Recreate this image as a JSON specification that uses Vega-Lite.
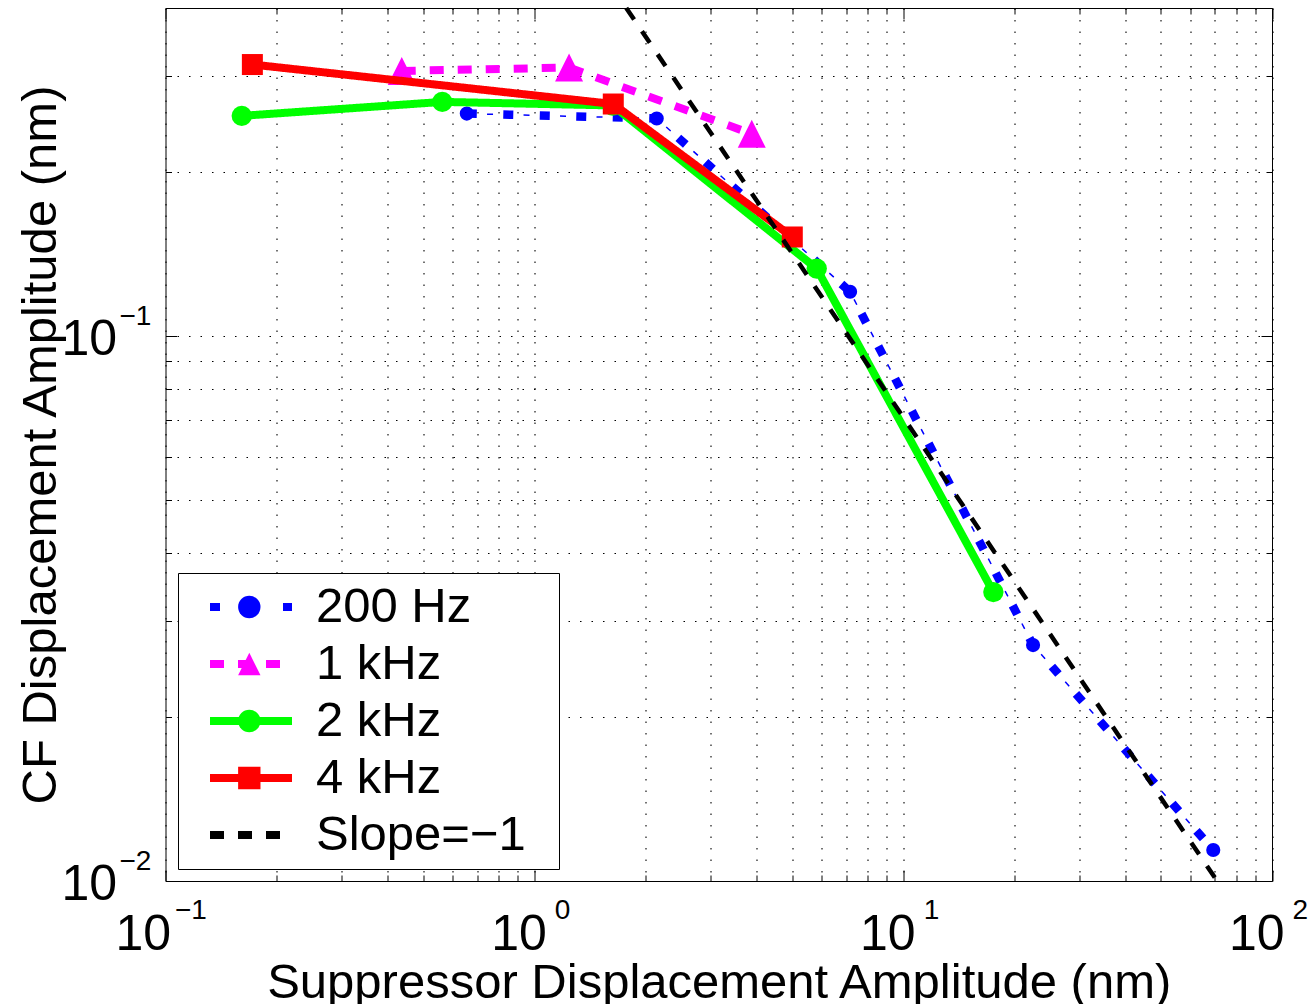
{
  "$schema": "https://vega.github.io/schema/vega-lite/v6.json",
  "width": 1106.5,
  "height": 873,
  "autosize": "none",
  "padding": {"left": 165.5, "top": 8, "right": 40, "bottom": 123},
  "background": "white",
  "data": {"values": [
    {"series": "200 Hz", "x": 0.656, "y": 0.256},
    {"series": "200 Hz", "x": 2.147, "y": 0.2508},
    {"series": "200 Hz", "x": 7.18, "y": 0.1206},
    {"series": "200 Hz", "x": 22.5, "y": 0.0271},
    {"series": "200 Hz", "x": 69.3, "y": 0.0114},
    {"series": "1 kHz", "x": 0.437, "y": 0.3066},
    {"series": "1 kHz", "x": 1.242, "y": 0.311},
    {"series": "1 kHz", "x": 3.886, "y": 0.235},
    {"series": "2 kHz", "x": 0.161, "y": 0.2536},
    {"series": "2 kHz", "x": 0.563, "y": 0.269},
    {"series": "2 kHz", "x": 1.63, "y": 0.265},
    {"series": "2 kHz", "x": 5.83, "y": 0.133},
    {"series": "2 kHz", "x": 17.56, "y": 0.0339},
    {"series": "4 kHz", "x": 0.172, "y": 0.315},
    {"series": "4 kHz", "x": 1.637, "y": 0.2666},
    {"series": "4 kHz", "x": 5.005, "y": 0.152},
    {"series": "Slope=−1", "x": 1.775, "y": 0.4},
    {"series": "Slope=−1", "x": 71, "y": 0.01}
  ]},
  "resolve": {"axis": {"x": "independent", "y": "independent"}},
  "config": {
    "view": {"stroke": "#000000", "strokeWidth": 1},
    "axis": {"labelFont": "Liberation Sans", "titleFont": "Liberation Sans", "labelColor": "#000000", "titleColor": "#000000", "tickColor": "#000000", "tickWidth": 1, "domain": false, "labelFlush": false, "labelOverlap": false, "labelBound": false, "gridColor": "#000000", "gridWidth": 1.1, "gridDash": [1.5, 10], "gridOpacity": 1},
    "legend": {"labelFont": "Liberation Sans", "labelColor": "#000000", "labelFontWeight": "normal"}
  },
  "layer": [
    {
      "transform": [{"filter": "datum.series === '200 Hz'"}],
      "mark": {"type": "line", "strokeWidth": 8.5},
      "encoding": {
        "x": {"field": "x", "type": "quantitative", "scale": {"type": "log", "domain": [0.1, 100], "nice": false},
          "axis": {"orient": "bottom", "values": [0.1, 1, 10, 100], "labelExpr": "'10'", "labelFontSize": 50, "labelAlign": "right", "labelBaseline": "alphabetic", "labelPadding": 68, "labelOffset": {"condition": {"test": "datum.value < 0.5", "value": 5}, "value": 12}, "ticks": false, "grid": false, "title": "Suppressor Displacement Amplitude (nm)", "titleFontSize": 49, "titleFontWeight": "normal", "titleY": 116, "titleBaseline": "alphabetic"}},
        "y": {"field": "y", "type": "quantitative", "scale": {"type": "log", "domain": [0.01, 0.4], "nice": false},
          "axis": {"orient": "left", "values": [0.01, 0.1], "labelExpr": "'10'", "labelFontSize": 50, "labelAlign": "right", "labelBaseline": "alphabetic", "labelPadding": 49, "labelOffset": 18, "ticks": false, "grid": false, "title": "CF Displacement Amplitude (nm)", "titleFontSize": 49, "titleFontWeight": "normal", "titleX": -110.5, "titleBaseline": "alphabetic"}},
        "color": {"field": "series", "type": "nominal",
          "scale": {"domain": ["200 Hz", "1 kHz", "2 kHz", "4 kHz", "Slope=−1"], "range": ["#0000ff", "#ff00ff", "#00ff00", "#ff0000", "#000000"]},
          "legend": {"orient": "none", "legendX": 12.5, "legendY": 565, "title": null, "symbolType": "stroke", "symbolSize": 6724, "symbolStrokeWidth": 8, "clipHeight": 50, "rowPadding": 7, "padding": 9, "symbolOffset": 19, "labelOffset": 20, "labelFontSize": 49, "labelLimit": 500, "labelExpr": "datum.label + '\u00a0\u2009\u200b'", "strokeColor": "#000000", "fillColor": "#ffffff", "zindex": 1}},
        "strokeDash": {"field": "series", "type": "nominal",
          "scale": {"domain": ["200 Hz", "1 kHz", "2 kHz", "4 kHz", "Slope=−1"], "range": [[10, 26.5], [14, 14], [1, 0], [1, 0], [14, 14]]},
          "legend": {"orient": "none", "legendX": 12.5, "legendY": 565, "title": null, "symbolType": "stroke", "symbolSize": 6724, "symbolStrokeWidth": 8, "clipHeight": 50, "rowPadding": 7, "padding": 9, "symbolOffset": 19, "labelOffset": 20, "labelFontSize": 49, "labelLimit": 500, "labelExpr": "datum.label + '\u00a0\u2009\u200b'", "strokeColor": "#000000", "fillColor": "#ffffff", "zindex": 1}}
      }
    },
    {
      "transform": [{"filter": "datum.series === '200 Hz'"}],
      "mark": {"type": "line", "stroke": "#0000ff", "strokeWidth": 1.5, "strokeDash": [6, 30.5], "strokeDashOffset": 16.25},
      "encoding": {
        "x": {"field": "x", "type": "quantitative", "scale": {"type": "log", "domain": [0.1, 100], "nice": false},
          "axis": {"orient": "bottom", "values": [0.1, 1, 10, 100], "labelExpr": "datum.value < 0.5 ? '−1' : datum.value < 5 ? '0' : datum.value < 50 ? '1' : '2'", "labelFontSize": 28, "labelAlign": "left", "labelBaseline": "alphabetic", "labelPadding": 37, "labelOffset": {"condition": {"test": "datum.value < 0.5", "value": 9}, "value": 20}, "ticks": false, "grid": false, "title": null}},
        "y": {"field": "y", "type": "quantitative", "scale": {"type": "log", "domain": [0.01, 0.4], "nice": false},
          "axis": {"orient": "left", "values": [0.01, 0.1], "labelExpr": "datum.value < 0.05 ? '−2' : '−1'", "labelFontSize": 28, "labelAlign": "left", "labelBaseline": "alphabetic", "labelPadding": 46.5, "labelOffset": -11.7, "ticks": false, "grid": false, "title": null}}
      }
    },
    {
      "transform": [{"filter": "datum.series === '200 Hz'"}],
      "mark": {"type": "point", "filled": true, "size": 200, "opacity": 1, "strokeWidth": 0},
      "encoding": {
        "x": {"field": "x", "type": "quantitative", "scale": {"type": "log", "domain": [0.1, 100], "nice": false},
          "axis": {"orient": "bottom", "values": [0.1, 1, 10, 100], "labels": false, "ticks": true, "tickSize": -11, "grid": true, "title": null}},
        "y": {"field": "y", "type": "quantitative", "scale": {"type": "log", "domain": [0.01, 0.4], "nice": false},
          "axis": {"orient": "left", "values": [0.01, 0.1], "labels": false, "ticks": true, "tickSize": -11, "grid": true, "title": null}},
        "fill": {"field": "series", "type": "nominal",
          "scale": {"domain": ["200 Hz", "1 kHz", "2 kHz", "4 kHz"], "range": ["#0000ff", "#ff00ff", "#00ff00", "#ff0000"]},
          "legend": {"orient": "none", "legendX": 31.3, "legendY": 565, "title": null, "symbolSize": 500, "symbolStrokeWidth": 0, "clipHeight": 50, "rowPadding": 7, "padding": 9, "symbolOffset": 19, "labelOffset": 20, "labelFontSize": 49, "labelLimit": 500, "labelExpr": "''", "zindex": 2}},
        "shape": {"field": "series", "type": "nominal",
          "scale": {"domain": ["200 Hz", "1 kHz", "2 kHz", "4 kHz"], "range": ["circle", "M0,-1L1,1L-1,1Z", "circle", "square"]},
          "legend": {"orient": "none", "legendX": 31.3, "legendY": 565, "title": null, "symbolSize": 500, "symbolStrokeWidth": 0, "clipHeight": 50, "rowPadding": 7, "padding": 9, "symbolOffset": 19, "labelOffset": 20, "labelFontSize": 49, "labelLimit": 500, "labelExpr": "''", "zindex": 2}}
      }
    },
    {
      "transform": [{"filter": "datum.series === '1 kHz'"}],
      "mark": {"type": "line", "strokeWidth": 8},
      "encoding": {
        "x": {"field": "x", "type": "quantitative", "scale": {"type": "log", "domain": [0.1, 100], "nice": false},
          "axis": {"orient": "bottom", "values": [0.2, 0.3, 0.4, 0.5, 0.6, 0.7, 0.8, 0.9, 2, 3, 4, 5, 6, 7, 8, 9, 20, 30, 40, 50, 60, 70, 80, 90], "labels": false, "ticks": true, "tickSize": -6, "grid": true, "title": null}},
        "y": {"field": "y", "type": "quantitative", "scale": {"type": "log", "domain": [0.01, 0.4], "nice": false},
          "axis": {"orient": "left", "values": [0.02, 0.03, 0.04, 0.05, 0.06, 0.07, 0.08, 0.09, 0.2, 0.3, 0.4], "labels": false, "ticks": true, "tickSize": -6, "grid": true, "title": null}},
        "color": {"field": "series", "type": "nominal",
          "scale": {"domain": ["200 Hz", "1 kHz", "2 kHz", "4 kHz", "Slope=−1"], "range": ["#0000ff", "#ff00ff", "#00ff00", "#ff0000", "#000000"]},
          "legend": {"orient": "none", "legendX": 12.5, "legendY": 565, "title": null, "symbolType": "stroke", "symbolSize": 6724, "symbolStrokeWidth": 8, "clipHeight": 50, "rowPadding": 7, "padding": 9, "symbolOffset": 19, "labelOffset": 20, "labelFontSize": 49, "labelLimit": 500, "labelExpr": "datum.label + '\u00a0\u2009\u200b'", "strokeColor": "#000000", "fillColor": "#ffffff", "zindex": 1}},
        "strokeDash": {"field": "series", "type": "nominal",
          "scale": {"domain": ["200 Hz", "1 kHz", "2 kHz", "4 kHz", "Slope=−1"], "range": [[10, 26.5], [14, 14], [1, 0], [1, 0], [14, 14]]},
          "legend": {"orient": "none", "legendX": 12.5, "legendY": 565, "title": null, "symbolType": "stroke", "symbolSize": 6724, "symbolStrokeWidth": 8, "clipHeight": 50, "rowPadding": 7, "padding": 9, "symbolOffset": 19, "labelOffset": 20, "labelFontSize": 49, "labelLimit": 500, "labelExpr": "datum.label + '\u00a0\u2009\u200b'", "strokeColor": "#000000", "fillColor": "#ffffff", "zindex": 1}}
      }
    },
    {
      "transform": [{"filter": "datum.series === '1 kHz'"}],
      "mark": {"type": "point", "filled": true, "size": 784, "opacity": 1, "strokeWidth": 0},
      "encoding": {
        "x": {"field": "x", "type": "quantitative", "scale": {"type": "log", "domain": [0.1, 100], "nice": false},
          "axis": {"orient": "top", "values": [0.1, 1, 10, 100], "labels": false, "ticks": true, "tickSize": -11, "grid": false, "title": null}},
        "y": {"field": "y", "type": "quantitative", "scale": {"type": "log", "domain": [0.01, 0.4], "nice": false},
          "axis": {"orient": "right", "values": [0.01, 0.1], "labels": false, "ticks": true, "tickSize": -11, "grid": false, "title": null}},
        "fill": {"field": "series", "type": "nominal",
          "scale": {"domain": ["200 Hz", "1 kHz", "2 kHz", "4 kHz"], "range": ["#0000ff", "#ff00ff", "#00ff00", "#ff0000"]},
          "legend": {"orient": "none", "legendX": 31.3, "legendY": 565, "title": null, "symbolSize": 500, "symbolStrokeWidth": 0, "clipHeight": 50, "rowPadding": 7, "padding": 9, "symbolOffset": 19, "labelOffset": 20, "labelFontSize": 49, "labelLimit": 500, "labelExpr": "''", "zindex": 2}},
        "shape": {"field": "series", "type": "nominal",
          "scale": {"domain": ["200 Hz", "1 kHz", "2 kHz", "4 kHz"], "range": ["circle", "M0,-1L1,1L-1,1Z", "circle", "square"]},
          "legend": {"orient": "none", "legendX": 31.3, "legendY": 565, "title": null, "symbolSize": 500, "symbolStrokeWidth": 0, "clipHeight": 50, "rowPadding": 7, "padding": 9, "symbolOffset": 19, "labelOffset": 20, "labelFontSize": 49, "labelLimit": 500, "labelExpr": "''", "zindex": 2}}
      }
    },
    {
      "transform": [{"filter": "datum.series === '2 kHz'"}],
      "mark": {"type": "line", "strokeWidth": 8},
      "encoding": {
        "x": {"field": "x", "type": "quantitative", "scale": {"type": "log", "domain": [0.1, 100], "nice": false},
          "axis": {"orient": "top", "values": [0.2, 0.3, 0.4, 0.5, 0.6, 0.7, 0.8, 0.9, 2, 3, 4, 5, 6, 7, 8, 9, 20, 30, 40, 50, 60, 70, 80, 90], "labels": false, "ticks": true, "tickSize": -6, "grid": false, "title": null}},
        "y": {"field": "y", "type": "quantitative", "scale": {"type": "log", "domain": [0.01, 0.4], "nice": false},
          "axis": {"orient": "right", "values": [0.02, 0.03, 0.04, 0.05, 0.06, 0.07, 0.08, 0.09, 0.2, 0.3, 0.4], "labels": false, "ticks": true, "tickSize": -6, "grid": false, "title": null}},
        "color": {"field": "series", "type": "nominal",
          "scale": {"domain": ["200 Hz", "1 kHz", "2 kHz", "4 kHz", "Slope=−1"], "range": ["#0000ff", "#ff00ff", "#00ff00", "#ff0000", "#000000"]},
          "legend": {"orient": "none", "legendX": 12.5, "legendY": 565, "title": null, "symbolType": "stroke", "symbolSize": 6724, "symbolStrokeWidth": 8, "clipHeight": 50, "rowPadding": 7, "padding": 9, "symbolOffset": 19, "labelOffset": 20, "labelFontSize": 49, "labelLimit": 500, "labelExpr": "datum.label + '\u00a0\u2009\u200b'", "strokeColor": "#000000", "fillColor": "#ffffff", "zindex": 1}},
        "strokeDash": {"field": "series", "type": "nominal",
          "scale": {"domain": ["200 Hz", "1 kHz", "2 kHz", "4 kHz", "Slope=−1"], "range": [[10, 26.5], [14, 14], [1, 0], [1, 0], [14, 14]]},
          "legend": {"orient": "none", "legendX": 12.5, "legendY": 565, "title": null, "symbolType": "stroke", "symbolSize": 6724, "symbolStrokeWidth": 8, "clipHeight": 50, "rowPadding": 7, "padding": 9, "symbolOffset": 19, "labelOffset": 20, "labelFontSize": 49, "labelLimit": 500, "labelExpr": "datum.label + '\u00a0\u2009\u200b'", "strokeColor": "#000000", "fillColor": "#ffffff", "zindex": 1}}
      }
    },
    {
      "transform": [{"filter": "datum.series === '2 kHz'"}],
      "mark": {"type": "point", "filled": true, "size": 415, "opacity": 1, "strokeWidth": 0},
      "encoding": {
        "x": {"field": "x", "type": "quantitative", "scale": {"type": "log", "domain": [0.1, 100], "nice": false}, "axis": null},
        "y": {"field": "y", "type": "quantitative", "scale": {"type": "log", "domain": [0.01, 0.4], "nice": false}, "axis": null},
        "fill": {"field": "series", "type": "nominal",
          "scale": {"domain": ["200 Hz", "1 kHz", "2 kHz", "4 kHz"], "range": ["#0000ff", "#ff00ff", "#00ff00", "#ff0000"]},
          "legend": {"orient": "none", "legendX": 31.3, "legendY": 565, "title": null, "symbolSize": 500, "symbolStrokeWidth": 0, "clipHeight": 50, "rowPadding": 7, "padding": 9, "symbolOffset": 19, "labelOffset": 20, "labelFontSize": 49, "labelLimit": 500, "labelExpr": "''", "zindex": 2}},
        "shape": {"field": "series", "type": "nominal",
          "scale": {"domain": ["200 Hz", "1 kHz", "2 kHz", "4 kHz"], "range": ["circle", "M0,-1L1,1L-1,1Z", "circle", "square"]},
          "legend": {"orient": "none", "legendX": 31.3, "legendY": 565, "title": null, "symbolSize": 500, "symbolStrokeWidth": 0, "clipHeight": 50, "rowPadding": 7, "padding": 9, "symbolOffset": 19, "labelOffset": 20, "labelFontSize": 49, "labelLimit": 500, "labelExpr": "''", "zindex": 2}}
      }
    },
    {
      "transform": [{"filter": "datum.series === '4 kHz'"}],
      "mark": {"type": "line", "strokeWidth": 8},
      "encoding": {
        "x": {"field": "x", "type": "quantitative", "scale": {"type": "log", "domain": [0.1, 100], "nice": false}, "axis": null},
        "y": {"field": "y", "type": "quantitative", "scale": {"type": "log", "domain": [0.01, 0.4], "nice": false}, "axis": null},
        "color": {"field": "series", "type": "nominal",
          "scale": {"domain": ["200 Hz", "1 kHz", "2 kHz", "4 kHz", "Slope=−1"], "range": ["#0000ff", "#ff00ff", "#00ff00", "#ff0000", "#000000"]},
          "legend": {"orient": "none", "legendX": 12.5, "legendY": 565, "title": null, "symbolType": "stroke", "symbolSize": 6724, "symbolStrokeWidth": 8, "clipHeight": 50, "rowPadding": 7, "padding": 9, "symbolOffset": 19, "labelOffset": 20, "labelFontSize": 49, "labelLimit": 500, "labelExpr": "datum.label + '\u00a0\u2009\u200b'", "strokeColor": "#000000", "fillColor": "#ffffff", "zindex": 1}},
        "strokeDash": {"field": "series", "type": "nominal",
          "scale": {"domain": ["200 Hz", "1 kHz", "2 kHz", "4 kHz", "Slope=−1"], "range": [[10, 26.5], [14, 14], [1, 0], [1, 0], [14, 14]]},
          "legend": {"orient": "none", "legendX": 12.5, "legendY": 565, "title": null, "symbolType": "stroke", "symbolSize": 6724, "symbolStrokeWidth": 8, "clipHeight": 50, "rowPadding": 7, "padding": 9, "symbolOffset": 19, "labelOffset": 20, "labelFontSize": 49, "labelLimit": 500, "labelExpr": "datum.label + '\u00a0\u2009\u200b'", "strokeColor": "#000000", "fillColor": "#ffffff", "zindex": 1}}
      }
    },
    {
      "transform": [{"filter": "datum.series === '4 kHz'"}],
      "mark": {"type": "point", "filled": true, "size": 441, "opacity": 1, "strokeWidth": 0},
      "encoding": {
        "x": {"field": "x", "type": "quantitative", "scale": {"type": "log", "domain": [0.1, 100], "nice": false}, "axis": null},
        "y": {"field": "y", "type": "quantitative", "scale": {"type": "log", "domain": [0.01, 0.4], "nice": false}, "axis": null},
        "fill": {"field": "series", "type": "nominal",
          "scale": {"domain": ["200 Hz", "1 kHz", "2 kHz", "4 kHz"], "range": ["#0000ff", "#ff00ff", "#00ff00", "#ff0000"]},
          "legend": {"orient": "none", "legendX": 31.3, "legendY": 565, "title": null, "symbolSize": 500, "symbolStrokeWidth": 0, "clipHeight": 50, "rowPadding": 7, "padding": 9, "symbolOffset": 19, "labelOffset": 20, "labelFontSize": 49, "labelLimit": 500, "labelExpr": "''", "zindex": 2}},
        "shape": {"field": "series", "type": "nominal",
          "scale": {"domain": ["200 Hz", "1 kHz", "2 kHz", "4 kHz"], "range": ["circle", "M0,-1L1,1L-1,1Z", "circle", "square"]},
          "legend": {"orient": "none", "legendX": 31.3, "legendY": 565, "title": null, "symbolSize": 500, "symbolStrokeWidth": 0, "clipHeight": 50, "rowPadding": 7, "padding": 9, "symbolOffset": 19, "labelOffset": 20, "labelFontSize": 49, "labelLimit": 500, "labelExpr": "''", "zindex": 2}}
      }
    },
    {
      "transform": [{"filter": "datum.series === 'Slope=−1'"}],
      "mark": {"type": "line", "strokeWidth": 4.5},
      "encoding": {
        "x": {"field": "x", "type": "quantitative", "scale": {"type": "log", "domain": [0.1, 100], "nice": false}, "axis": null},
        "y": {"field": "y", "type": "quantitative", "scale": {"type": "log", "domain": [0.01, 0.4], "nice": false}, "axis": null},
        "color": {"field": "series", "type": "nominal",
          "scale": {"domain": ["200 Hz", "1 kHz", "2 kHz", "4 kHz", "Slope=−1"], "range": ["#0000ff", "#ff00ff", "#00ff00", "#ff0000", "#000000"]},
          "legend": {"orient": "none", "legendX": 12.5, "legendY": 565, "title": null, "symbolType": "stroke", "symbolSize": 6724, "symbolStrokeWidth": 8, "clipHeight": 50, "rowPadding": 7, "padding": 9, "symbolOffset": 19, "labelOffset": 20, "labelFontSize": 49, "labelLimit": 500, "labelExpr": "datum.label + '\u00a0\u2009\u200b'", "strokeColor": "#000000", "fillColor": "#ffffff", "zindex": 1}},
        "strokeDash": {"field": "series", "type": "nominal",
          "scale": {"domain": ["200 Hz", "1 kHz", "2 kHz", "4 kHz", "Slope=−1"], "range": [[10, 26.5], [14, 14], [1, 0], [1, 0], [14, 14]]},
          "legend": {"orient": "none", "legendX": 12.5, "legendY": 565, "title": null, "symbolType": "stroke", "symbolSize": 6724, "symbolStrokeWidth": 8, "clipHeight": 50, "rowPadding": 7, "padding": 9, "symbolOffset": 19, "labelOffset": 20, "labelFontSize": 49, "labelLimit": 500, "labelExpr": "datum.label + '\u00a0\u2009\u200b'", "strokeColor": "#000000", "fillColor": "#ffffff", "zindex": 1}}
      }
    }
  ]
}
